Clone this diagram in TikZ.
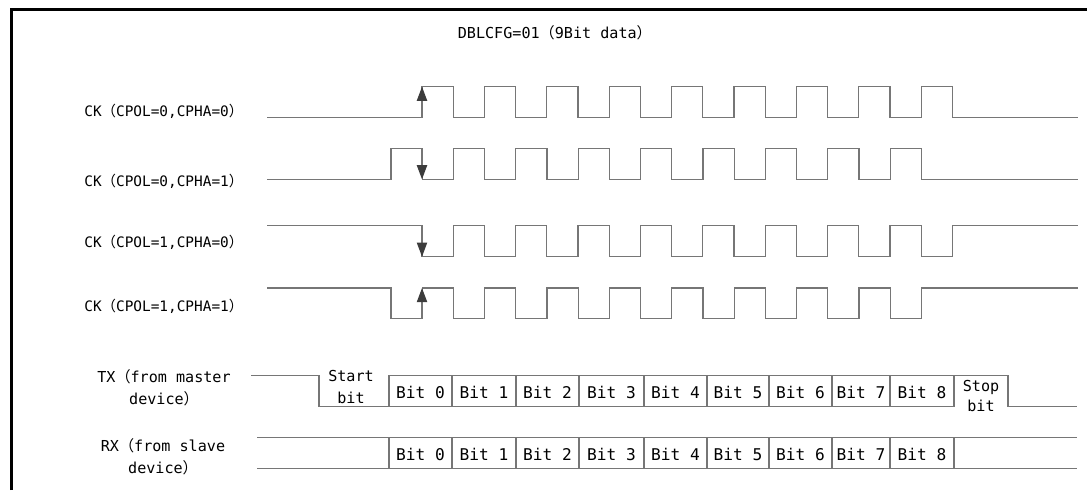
\documentclass[tikz,border=0pt]{standalone}
\usepackage{fontspec}
\setmainfont{DejaVu Sans Mono}
\newfontfamily\cjk{Noto Sans CJK SC}
\usepackage{tikz}
\usetikzlibrary{arrows.meta}
\usepackage{xcolor}
\definecolor{wavegray}{RGB}{118,118,118}
\definecolor{tipgray}{RGB}{60,60,60}
\newcommand{\fwlp}{{\cjk （}}
\newcommand{\fwrp}{{\cjk ）}}

\begin{document}
\begin{tikzpicture}[x=0.02cm, y=-0.02cm,
    wave/.style={draw=wavegray, line width=0.75pt},
    edgetip/.style={draw=wavegray, line width=0.75pt, -{Triangle[length=8pt, width=5.8pt, color=tipgray]}},
    cklbl/.style={font=\fontsize{8.2}{10}\selectfont, anchor=west, inner sep=0pt, text=black},
    sidelbl/.style={font=\fontsize{8.6}{12.4}\selectfont, align=center, inner sep=0pt, text=black},
    bitlbl/.style={font=\fontsize{9.2}{11}\selectfont, inner sep=0pt, text=black}]
    \useasboundingbox (0,0) rectangle (1087,490);

    % Frame (only top and left edge are inside the picture)
    \draw[black, line width=1.4pt] (11.5,490) -- (11.5,9.3) -- (1087,9.3);

    % Title
    \node[cklbl, font=\fontsize{8.6}{10}\selectfont] (title) at (457.5,32.3) {DBLCFG=01\fwlp 9Bit data\fwrp};

    % Clock labels
    \node[cklbl] (ckA) at (84,111.7) {CK\fwlp CPOL=0,CPHA=0\fwrp};
    \node[cklbl] (ckB) at (84,181) {CK\fwlp CPOL=0,CPHA=1\fwrp};
    \node[cklbl] (ckC) at (84,242.7) {CK\fwlp CPOL=1,CPHA=0\fwrp};
    \node[cklbl] (ckD) at (84,306) {CK\fwlp CPOL=1,CPHA=1\fwrp};

    % CPOL=0, CPHA=0
    \draw[wave] (267,117.7) -- (422,117.7)
        \foreach \k in {0,...,8} { -- ++(0,-31) -- ++(31.2,0) -- ++(0,31) -- ++(31.2,0) }
        -- (1078,117.7);
    \draw[edgetip] (422,117.7) -- (422,86.7);

    % CPOL=0, CPHA=1
    \draw[wave] (267,179.3) -- (391,179.3)
        \foreach \k in {0,...,8} { -- ++(0,-30.6) -- ++(31.2,0) -- ++(0,30.6) -- ++(31.2,0) }
        -- (1078,179.3);
    \draw[edgetip] (422,148.7) -- (422,179.3);

    % CPOL=1, CPHA=0
    \draw[wave] (267,225.7) -- (422,225.7)
        \foreach \k in {0,...,8} { -- ++(0,31) -- ++(31.2,0) -- ++(0,-31) -- ++(31.2,0) }
        -- (1078,225.7);
    \draw[edgetip] (422,225.7) -- (422,256.7);

    % CPOL=1, CPHA=1
    \draw[wave] (267,288) -- (391,288)
        \foreach \k in {0,...,8} { -- ++(0,30.7) -- ++(31.2,0) -- ++(0,-30.7) -- ++(31.2,0) }
        -- (1078,288);
    \draw[edgetip] (422,318.7) -- (422,288);

    % TX line
    \node[sidelbl] (txlbl) at (164,387.5) {TX\fwlp from master\\device\fwrp};
    \draw[wave] (251,375.3) -- (319,375.3) -- (319,406.7) -- (954,406.7);
    \draw[wave] (389,375.3) -- (1008,375.3) -- (1008,406.7) -- (1077,406.7);
    \node[sidelbl, font=\fontsize{8.6}{12.3}\selectfont] (start) at (351,387) {Start\\bit};
    \node[sidelbl, font=\fontsize{8.6}{11.2}\selectfont] (stop) at (981,396) {Stop\\bit};

    % RX line
    \node[sidelbl, font=\fontsize{8.6}{13}\selectfont] (rxlbl) at (163,456.7) {RX\fwlp from slave\\device\fwrp};
    \draw[wave] (257,437.3) -- (1077,437.3);
    \draw[wave] (257,468.3) -- (1077,468.3);

    % Bit cells
    \foreach \x in {389,452,516,579,644,707,769,832,890,954} {
        \draw[wave] (\x,375.3) -- (\x,406.7);
        \draw[wave] (\x,437.3) -- (\x,468.3);
    }
    \foreach \x/\b in {420.5/0, 484/1, 547.5/2, 611.5/3, 675.5/4, 738/5, 800.5/6, 861/7, 922/8} {
        \node[bitlbl] (tx\b) at (\x,392.5) {Bit \b};
        \node[bitlbl] (rx\b) at (\x,454) {Bit \b};
    }
\end{tikzpicture}
\end{document}
